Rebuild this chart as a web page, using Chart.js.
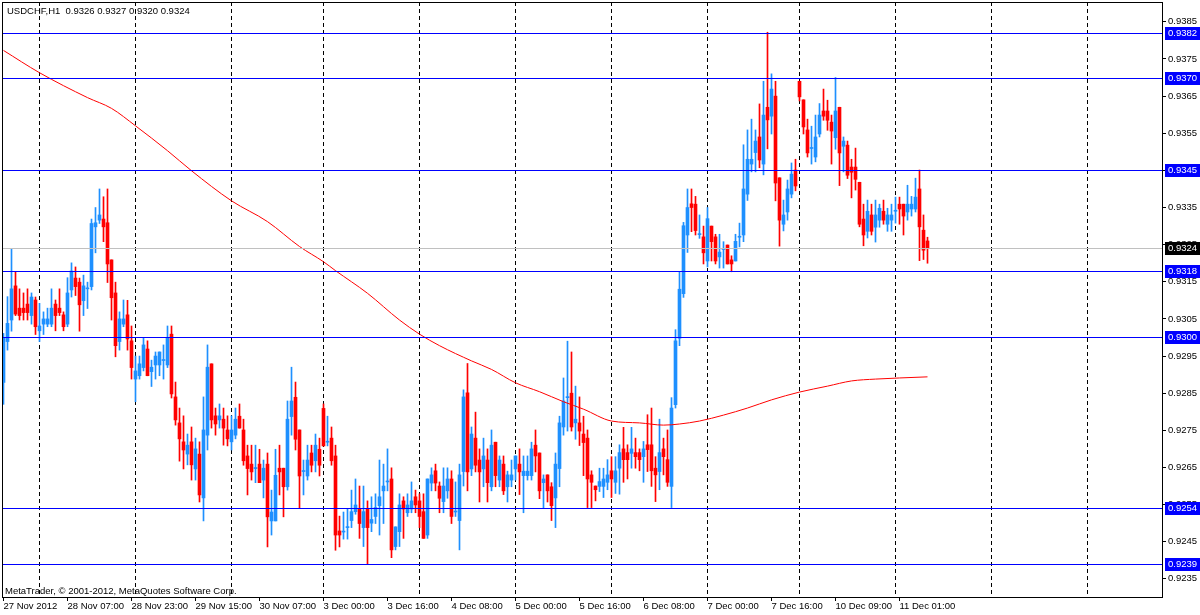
<!DOCTYPE html>
<html>
<head>
<meta charset="utf-8">
<title>USDCHF,H1</title>
<script src="https://cdn.jsdelivr.net/npm/chart.js@4.4.1/dist/chart.umd.min.js"></script>
<style>
  html, body { margin: 0; padding: 0; background: #fff; }
  canvas { display: block; }
</style>
</head>
<body>
<canvas id="usdchfChart" width="1200" height="615"></canvas>
<script>
// one value per H1 bar, bar 0 = 27 Nov 15:00
const open = [
  0.92879, 0.92989, 0.93047, 0.93139, 0.93079, 0.93079, 0.93090, 0.93059, 0.93101, 0.93018, 0.93036, 0.93036, 0.93036, 0.93090, 0.93079, 0.93061,
  0.93036, 0.93128, 0.93160, 0.93149, 0.93099, 0.93131, 0.93137, 0.93298, 0.93316, 0.93319, 0.93309, 0.93209, 0.93120, 0.92989, 0.93036, 0.93061,
  0.92991, 0.92888, 0.92897, 0.92919, 0.92969, 0.92908, 0.92926, 0.92926, 0.92938, 0.92926, 0.93009, 0.92840, 0.92770, 0.92719, 0.92686, 0.92719,
  0.92646, 0.92686, 0.92568, 0.92737, 0.92929, 0.92789, 0.92778, 0.92780, 0.92751, 0.92719, 0.92737, 0.92788, 0.92751, 0.92681, 0.92659, 0.92647,
  0.92659, 0.92616, 0.92659, 0.92506, 0.92506, 0.92648, 0.92648, 0.92598, 0.92787, 0.92839, 0.92751, 0.92639, 0.92627, 0.92689, 0.92668, 0.92699,
  0.92809, 0.92718, 0.92729, 0.92681, 0.92479, 0.92476, 0.92488, 0.92507, 0.92531, 0.92538, 0.92488, 0.92538, 0.92500, 0.92518, 0.92547, 0.92587,
  0.92611, 0.92619, 0.92437, 0.92477, 0.92560, 0.92528, 0.92538, 0.92571, 0.92560, 0.92531, 0.92468, 0.92608, 0.92641, 0.92600, 0.92558, 0.92587,
  0.92619, 0.92530, 0.92507, 0.92639, 0.92851, 0.92646, 0.92729, 0.92670, 0.92646, 0.92670, 0.92598, 0.92718, 0.92616, 0.92659, 0.92598, 0.92616,
  0.92646, 0.92659, 0.92628, 0.92628, 0.92628, 0.92710, 0.92689, 0.92609, 0.92630, 0.92598, 0.92568, 0.92647, 0.92759, 0.92838, 0.92850, 0.92770,
  0.92770, 0.92740, 0.92729, 0.92630, 0.92600, 0.92599, 0.92599, 0.92610, 0.92641, 0.92610, 0.92648, 0.92700, 0.92690, 0.92688, 0.92690, 0.92690,
  0.92679, 0.92711, 0.92711, 0.92648, 0.92639, 0.92700, 0.92671, 0.92599, 0.92819, 0.92998, 0.93118, 0.93276, 0.93360, 0.93359, 0.93277, 0.93271,
  0.93206, 0.93300, 0.93271, 0.93217, 0.93237, 0.93249, 0.93209, 0.93206, 0.93270, 0.93276, 0.93386, 0.93467, 0.93498, 0.93540, 0.93467, 0.93620,
  0.93596, 0.93650, 0.93430, 0.93305, 0.93338, 0.93386, 0.93451, 0.93690, 0.93640, 0.93559, 0.93509, 0.93486, 0.93548, 0.93610, 0.93610, 0.93580,
  0.93538, 0.93620, 0.93515, 0.93518, 0.93459, 0.93459, 0.93418, 0.93319, 0.93286, 0.93330, 0.93297, 0.93316, 0.93340, 0.93305, 0.93316, 0.93340,
  0.93359, 0.93359, 0.93338, 0.93346, 0.93346, 0.93400, 0.93289, 0.93260
];
const high = [
  0.93011, 0.93110, 0.93238, 0.93177, 0.93131, 0.93120, 0.93131, 0.93120, 0.93109, 0.93092, 0.93069, 0.93079, 0.93131, 0.93101, 0.93131, 0.93069,
  0.93161, 0.93201, 0.93190, 0.93160, 0.93168, 0.93149, 0.93319, 0.93350, 0.93400, 0.93379, 0.93400, 0.93209, 0.93149, 0.93069, 0.93101, 0.93100,
  0.93031, 0.92950, 0.92950, 0.92999, 0.92991, 0.92939, 0.92961, 0.92961, 0.92980, 0.93031, 0.93031, 0.92880, 0.92810, 0.92789, 0.92740, 0.92759,
  0.92729, 0.92719, 0.92840, 0.92980, 0.92929, 0.92810, 0.92821, 0.92810, 0.92789, 0.92789, 0.92810, 0.92821, 0.92780, 0.92710, 0.92710, 0.92710,
  0.92699, 0.92670, 0.92689, 0.92589, 0.92699, 0.92710, 0.92648, 0.92829, 0.92920, 0.92880, 0.92751, 0.92670, 0.92710, 0.92710, 0.92740, 0.92729,
  0.92821, 0.92788, 0.92759, 0.92710, 0.92519, 0.92530, 0.92540, 0.92589, 0.92619, 0.92600, 0.92600, 0.92560, 0.92571, 0.92579, 0.92670, 0.92659,
  0.92700, 0.92649, 0.92490, 0.92579, 0.92571, 0.92579, 0.92611, 0.92589, 0.92579, 0.92579, 0.92619, 0.92649, 0.92659, 0.92611, 0.92649, 0.92649,
  0.92641, 0.92611, 0.92659, 0.92859, 0.92930, 0.92759, 0.92799, 0.92700, 0.92729, 0.92700, 0.92751, 0.92718, 0.92681, 0.92681, 0.92640, 0.92670,
  0.92681, 0.92700, 0.92681, 0.92681, 0.92718, 0.92751, 0.92689, 0.92630, 0.92630, 0.92609, 0.92689, 0.92788, 0.92891, 0.92990, 0.92961, 0.92869,
  0.92840, 0.92788, 0.92751, 0.92641, 0.92600, 0.92648, 0.92648, 0.92671, 0.92679, 0.92679, 0.92711, 0.92758, 0.92711, 0.92758, 0.92729, 0.92700,
  0.92720, 0.92792, 0.92810, 0.92679, 0.92780, 0.92729, 0.92751, 0.92838, 0.93021, 0.93178, 0.93310, 0.93400, 0.93400, 0.93380, 0.93330, 0.93300,
  0.93350, 0.93300, 0.93278, 0.93278, 0.93258, 0.93249, 0.93220, 0.93278, 0.93308, 0.93519, 0.93559, 0.93588, 0.93559, 0.93629, 0.93690, 0.93822,
  0.93710, 0.93690, 0.93430, 0.93370, 0.93424, 0.93470, 0.93480, 0.93690, 0.93640, 0.93588, 0.93569, 0.93599, 0.93630, 0.93669, 0.93639, 0.93599,
  0.93700, 0.93620, 0.93540, 0.93529, 0.93480, 0.93510, 0.93418, 0.93359, 0.93370, 0.93359, 0.93370, 0.93359, 0.93370, 0.93348, 0.93359, 0.93378,
  0.93378, 0.93359, 0.93410, 0.93380, 0.93429, 0.93451, 0.93330, 0.93270
];
const low = [
  0.92820, 0.92966, 0.93017, 0.93059, 0.93047, 0.93047, 0.93047, 0.93036, 0.93008, 0.92989, 0.93008, 0.93029, 0.93029, 0.93018, 0.93059, 0.93018,
  0.93029, 0.93109, 0.93113, 0.93017, 0.93059, 0.93078, 0.93128, 0.93228, 0.93307, 0.93258, 0.93148, 0.93047, 0.92948, 0.92966, 0.93029, 0.92966,
  0.92888, 0.92827, 0.92888, 0.92910, 0.92897, 0.92868, 0.92888, 0.92897, 0.92888, 0.92919, 0.92837, 0.92764, 0.92667, 0.92646, 0.92657, 0.92616,
  0.92616, 0.92557, 0.92506, 0.92697, 0.92756, 0.92737, 0.92756, 0.92710, 0.92708, 0.92697, 0.92727, 0.92756, 0.92656, 0.92576, 0.92616, 0.92609,
  0.92609, 0.92568, 0.92436, 0.92468, 0.92506, 0.92576, 0.92517, 0.92589, 0.92737, 0.92697, 0.92540, 0.92576, 0.92616, 0.92638, 0.92638, 0.92627,
  0.92708, 0.92708, 0.92656, 0.92427, 0.92436, 0.92457, 0.92457, 0.92488, 0.92524, 0.92459, 0.92437, 0.92390, 0.92477, 0.92499, 0.92468, 0.92499,
  0.92587, 0.92407, 0.92428, 0.92437, 0.92459, 0.92518, 0.92528, 0.92528, 0.92488, 0.92459, 0.92459, 0.92587, 0.92587, 0.92528, 0.92528, 0.92567,
  0.92499, 0.92518, 0.92428, 0.92600, 0.92587, 0.92628, 0.92638, 0.92557, 0.92598, 0.92557, 0.92587, 0.92598, 0.92598, 0.92577, 0.92557, 0.92598,
  0.92616, 0.92577, 0.92528, 0.92616, 0.92616, 0.92638, 0.92566, 0.92540, 0.92557, 0.92507, 0.92488, 0.92598, 0.92737, 0.92748, 0.92748, 0.92726,
  0.92709, 0.92628, 0.92542, 0.92542, 0.92560, 0.92585, 0.92569, 0.92590, 0.92569, 0.92580, 0.92578, 0.92610, 0.92619, 0.92648, 0.92648, 0.92641,
  0.92610, 0.92639, 0.92599, 0.92558, 0.92590, 0.92630, 0.92599, 0.92542, 0.92810, 0.92978, 0.93108, 0.93229, 0.93285, 0.93276, 0.93267, 0.93198,
  0.93190, 0.93206, 0.93198, 0.93187, 0.93187, 0.93198, 0.93177, 0.93206, 0.93244, 0.93258, 0.93369, 0.93446, 0.93446, 0.93457, 0.93438, 0.93508,
  0.93548, 0.93368, 0.93246, 0.93287, 0.93316, 0.93376, 0.93395, 0.93637, 0.93548, 0.93486, 0.93467, 0.93473, 0.93540, 0.93585, 0.93558, 0.93467,
  0.93507, 0.93409, 0.93446, 0.93428, 0.93376, 0.93397, 0.93298, 0.93247, 0.93268, 0.93276, 0.93257, 0.93297, 0.93305, 0.93286, 0.93286, 0.93308,
  0.93305, 0.93276, 0.93316, 0.93327, 0.93338, 0.93207, 0.93210, 0.93200
];
const close = [
  0.92999, 0.93038, 0.93131, 0.93063, 0.93059, 0.93067, 0.93067, 0.93109, 0.93029, 0.93031, 0.93050, 0.93050, 0.93079, 0.93059, 0.93067, 0.93029,
  0.93120, 0.93179, 0.93137, 0.93088, 0.93139, 0.93133, 0.93307, 0.93309, 0.93330, 0.93298, 0.93198, 0.93107, 0.92978, 0.93050, 0.93050, 0.92996,
  0.92919, 0.92910, 0.92929, 0.92980, 0.92897, 0.92920, 0.92950, 0.92961, 0.92939, 0.92999, 0.92848, 0.92778, 0.92727, 0.92697, 0.92710, 0.92657,
  0.92700, 0.92576, 0.92751, 0.92920, 0.92778, 0.92767, 0.92789, 0.92756, 0.92727, 0.92751, 0.92780, 0.92756, 0.92668, 0.92647, 0.92638, 0.92648,
  0.92609, 0.92648, 0.92517, 0.92530, 0.92629, 0.92638, 0.92598, 0.92780, 0.92829, 0.92726, 0.92627, 0.92640, 0.92670, 0.92656, 0.92710, 0.92656,
  0.92708, 0.92719, 0.92668, 0.92468, 0.92468, 0.92477, 0.92489, 0.92531, 0.92549, 0.92499, 0.92531, 0.92488, 0.92510, 0.92542, 0.92571, 0.92600,
  0.92612, 0.92428, 0.92490, 0.92549, 0.92538, 0.92549, 0.92560, 0.92549, 0.92518, 0.92459, 0.92619, 0.92630, 0.92608, 0.92567, 0.92600, 0.92619,
  0.92518, 0.92531, 0.92630, 0.92840, 0.92638, 0.92740, 0.92656, 0.92638, 0.92681, 0.92609, 0.92710, 0.92628, 0.92670, 0.92587, 0.92630, 0.92630,
  0.92681, 0.92638, 0.92640, 0.92640, 0.92700, 0.92681, 0.92587, 0.92619, 0.92587, 0.92547, 0.92659, 0.92770, 0.92829, 0.92839, 0.92759, 0.92780,
  0.92748, 0.92717, 0.92619, 0.92610, 0.92590, 0.92612, 0.92619, 0.92630, 0.92619, 0.92641, 0.92690, 0.92671, 0.92671, 0.92700, 0.92679, 0.92671,
  0.92700, 0.92698, 0.92641, 0.92630, 0.92690, 0.92679, 0.92610, 0.92810, 0.92991, 0.93130, 0.93301, 0.93350, 0.93350, 0.93288, 0.93278, 0.93228,
  0.93320, 0.93258, 0.93206, 0.93230, 0.93238, 0.93198, 0.93198, 0.93259, 0.93271, 0.93400, 0.93480, 0.93480, 0.93529, 0.93478, 0.93599, 0.93586,
  0.93669, 0.93416, 0.93316, 0.93330, 0.93400, 0.93440, 0.93408, 0.93648, 0.93567, 0.93497, 0.93510, 0.93540, 0.93599, 0.93596, 0.93585, 0.93556,
  0.93610, 0.93497, 0.93529, 0.93437, 0.93445, 0.93426, 0.93305, 0.93276, 0.93340, 0.93286, 0.93330, 0.93348, 0.93316, 0.93330, 0.93330, 0.93341,
  0.93346, 0.93327, 0.93359, 0.93359, 0.93378, 0.93298, 0.93235, 0.93240
];

// red moving average at these bar indices
const maIndex = [0, 9, 21, 27, 33, 41, 47, 57, 66, 74, 80, 83, 91, 99, 104, 109, 117, 122, 128, 134, 140, 145,
                 152, 159, 165, 169, 174, 180, 186, 192, 199, 206, 212, 218, 224, 231];
const maValue = [0.93773, 0.93713, 0.93646, 0.93617, 0.93570, 0.93503, 0.93449, 0.93368, 0.93312, 0.93245, 0.93204, 0.93180,
                 0.93119, 0.93047, 0.93009, 0.92978, 0.92937, 0.92914, 0.92878, 0.92854, 0.92827, 0.92807,
                 0.92775, 0.92770, 0.92764, 0.92767, 0.92775, 0.92791, 0.92810, 0.92832, 0.92853, 0.92869, 0.92883,
                 0.92888, 0.92891, 0.92894];

// horizontal lines and the current bid
const levels = [0.9382, 0.9370, 0.9345, 0.9318, 0.9300, 0.9254, 0.9239];
const bidPrice = 0.9324;

// axis labels
const yTicks = [0.9235, 0.9245, 0.9255, 0.9265, 0.9275, 0.9285, 0.9295, 0.9305, 0.9315, 0.9325, 0.9335,
                0.9345, 0.9355, 0.9365, 0.9375, 0.9385];
const xTickIndex = [0, 16, 32, 48, 64, 80, 96, 112, 128, 144, 160, 176, 192, 208, 224];
const xTickText = ['27 Nov 2012', '28 Nov 07:00', '28 Nov 23:00', '29 Nov 15:00', '30 Nov 07:00', '3 Dec 00:00',
                   '3 Dec 16:00', '4 Dec 08:00', '5 Dec 00:00', '5 Dec 16:00', '6 Dec 08:00', '7 Dec 00:00',
                   '7 Dec 16:00', '10 Dec 09:00', '11 Dec 01:00'];
// day separators (dashed)
const separators = [9, 33, 57, 80, 104, 128, 152, 176, 199, 223, 247, 271];

const titleText = 'USDCHF,H1  0.9326 0.9327 0.9320 0.9324';
const footerText = 'MetaTrader, \u00a9 2001-2012, MetaQuotes Software Corp.';

const UP = '#1E90FF';
const DOWN = '#FF0000';
const FONT = '"Liberation Sans", Arial, sans-serif';

Chart.defaults.font.family = FONT;
Chart.defaults.font.size = 9.5;
Chart.defaults.color = '#000';

const candleColors = open.map((o, i) => close[i] >= o ? UP : DOWN);

// no extra room for half-labels at the ends of the axes
const noPadding = scale => {
    scale.paddingLeft = 0;
    scale.paddingRight = 0;
    scale.paddingTop = 0;
    scale.paddingBottom = 0;
};

const mtOverlay = {
    id: 'mtOverlay',
    beforeDatasetsDraw(chart) {
        const { ctx, chartArea: a, scales: { x } } = chart;
        ctx.save();
        ctx.strokeStyle = '#000';
        ctx.lineWidth = 1;
        ctx.setLineDash([4, 3]);
        separators.forEach(i => {
            const px = Math.floor(x.getPixelForValue(i)) + 0.5;
            ctx.beginPath();
            ctx.moveTo(px, a.top);
            ctx.lineTo(px, a.bottom);
            ctx.stroke();
        });
        ctx.restore();
    },
    afterDatasetsDraw(chart) {
        const { ctx, chartArea: a, scales: { y } } = chart;
        ctx.save();
        ctx.lineWidth = 1;
        const hline = (v, color) => {
            const py = Math.round(y.getPixelForValue(v)) + 0.5;
            ctx.strokeStyle = color;
            ctx.beginPath();
            ctx.moveTo(a.left, py);
            ctx.lineTo(a.right, py);
            ctx.stroke();
        };
        hline(bidPrice, '#C0C0C0');
        levels.forEach(v => hline(v, '#0000FF'));
        ctx.restore();
    },
    afterDraw(chart) {
        const { ctx, chartArea: a, scales: { y } } = chart;
        ctx.save();
        // plot frame
        ctx.strokeStyle = '#000';
        ctx.lineWidth = 1;
        ctx.strokeRect(a.left + 0.5, a.top + 0.5, a.right - a.left, a.bottom - a.top);

        // price boxes on the right scale
        ctx.font = '9.5px ' + FONT;
        ctx.textBaseline = 'middle';
        ctx.textAlign = 'left';
        const box = (v, bg) => {
            const py = Math.round(y.getPixelForValue(v));
            ctx.fillStyle = bg;
            ctx.fillRect(a.right + 3, py - 6, 36, 13);
            ctx.fillStyle = '#fff';
            ctx.fillText(v.toFixed(4), a.right + 6, py + 0.5);
        };
        levels.forEach(v => box(v, '#0000FF'));
        box(bidPrice, '#000');

        // captions
        ctx.fillStyle = '#000';
        ctx.fillText(titleText, 7, 11);
        ctx.fillText(footerText, 5, 591);
        ctx.restore();
    }
};

const ctx = document.getElementById('usdchfChart').getContext('2d');

const usdchfChart = new Chart(ctx, {
    type: 'bar',
    data: {
        datasets: [
            {
                type: 'line',
                label: 'MA',
                data: maIndex.map((i, k) => ({ x: i, y: maValue[k] })),
                borderColor: '#FF0000',
                borderWidth: 1,
                pointRadius: 0,
                cubicInterpolationMode: 'monotone',
                order: 0
            },
            {
                label: 'Body',
                data: open.map((o, i) => ({ x: i, y: [o, close[i]] })),
                backgroundColor: candleColors,
                barThickness: 3,
                minBarLength: 1,
                grouped: false,
                order: 1
            },
            {
                label: 'Wick',
                data: open.map((o, i) => ({ x: i, y: [low[i], high[i]] })),
                backgroundColor: candleColors,
                barThickness: 1,
                grouped: false,
                order: 2
            }
        ]
    },
    options: {
        responsive: false,
        animation: false,
        devicePixelRatio: 1,
        events: [],
        layout: { padding: { left: 2, top: 2, right: 0, bottom: 0 } },
        plugins: {
            legend: { display: false },
            tooltip: { enabled: false }
        },
        scales: {
            x: {
                type: 'linear',
                offset: false,
                min: -0.375,
                max: 289.625,
                border: { display: false },
                grid: { offset: false, drawOnChartArea: false, drawTicks: true, tickLength: 4, color: '#000' },
                ticks: {
                    autoSkip: false,
                    maxRotation: 0,
                    align: 'start',
                    padding: 0,
                    callback: (v, idx) => xTickText[idx]
                },
                afterBuildTicks: scale => { scale.ticks = xTickIndex.map(v => ({ value: v })); },
                afterFit: scale => { scale.height = 18; noPadding(scale); }
            },
            y: {
                position: 'right',
                min: 0.92301132,
                max: 0.93903484,
                border: { display: false },
                grid: { drawOnChartArea: false, drawTicks: true, tickLength: 4, color: '#000' },
                ticks: {
                    padding: 2,
                    callback: v => v.toFixed(4)
                },
                afterBuildTicks: scale => { scale.ticks = yTicks.map(v => ({ value: v })); },
                afterFit: scale => { scale.width = 38; noPadding(scale); }
            }
        }
    },
    plugins: [mtOverlay]
});
</script>
</body>
</html>
